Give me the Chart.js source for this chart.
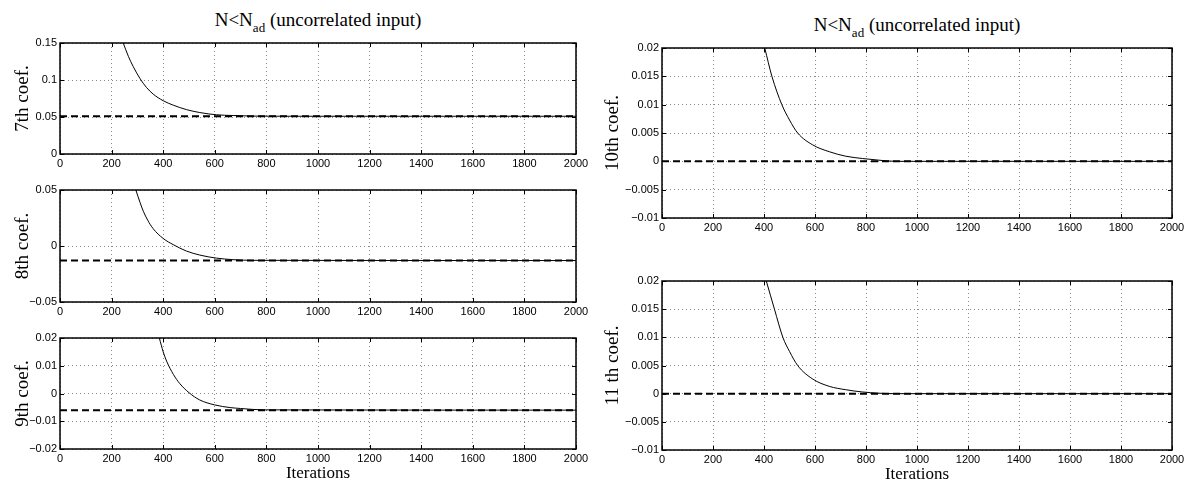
<!DOCTYPE html>
<html>
<head>
<meta charset="utf-8">
<script src="https://cdn.jsdelivr.net/npm/chart.js@4"></script>
<style>
  body { margin: 0; background: #fff; width: 1189px; height: 486px; position: relative; overflow: hidden; }
  canvas { position: absolute; }
  .ttl { position: absolute; width: 400px; text-align: center; font: 19px "Liberation Serif", serif; line-height: 19px; white-space: nowrap; color: #000; }
  .ttl sub { font-size: 13px; vertical-align: baseline; position: relative; top: 6px; }
</style>
</head>
<body>
<div class="ttl" style="left:118px;top:10px">N&lt;N<sub>ad</sub> (uncorrelated input)</div>
<div class="ttl" style="left:717px;top:15px">N&lt;N<sub>ad</sub> (uncorrelated input)</div>
<script>
// iterations axis
const xMin = 0, xMax = 2000, xStep = 200;

// 7th coefficient
const iter7 = [245, 265, 284, 310, 335, 361, 400, 439, 490, 542, 606, 671, 750, 900, 2000];
const coef7 = [0.15, 0.132, 0.118, 0.102, 0.090, 0.081, 0.072, 0.066, 0.060, 0.056, 0.053, 0.052, 0.0512, 0.051, 0.051];
const ref7 = 0.051;

// 8th coefficient
const iter8 = [294, 310, 323, 340, 361, 400, 439, 490, 542, 606, 671, 750, 2000];
const coef8 = [0.05, 0.039, 0.031, 0.023, 0.0155, 0.0067, 0.0012, -0.0045, -0.0081, -0.0108, -0.0122, -0.0128, -0.013];
const ref8 = -0.013;

// 9th coefficient
const iter9 = [385, 400, 413, 440, 464, 500, 541, 599, 662, 700, 790, 2000];
const coef9 = [0.02, 0.015, 0.0117, 0.0068, 0.0036, 0.0003, -0.0023, -0.0041, -0.0051, -0.0054, -0.0059, -0.006];
const ref9 = -0.006;

// 10th coefficient
const iter10 = [403, 431, 470, 500, 532, 591, 656, 721, 786, 851, 916, 2000];
const coef10 = [0.02, 0.015, 0.010, 0.0073, 0.005, 0.0029, 0.0017, 0.0009, 0.0005, 0.0002, 0, 0];
const ref10 = 0;

// 11th coefficient
const iter11 = [409, 441, 474, 500, 532, 591, 656, 721, 786, 916, 2000];
const coef11 = [0.02, 0.015, 0.010, 0.0075, 0.005, 0.0026, 0.0013, 0.0007, 0.0003, 0, 0];
const ref11 = 0;

// y ranges [min, max, step]
const range7 = [0, 0.15, 0.05];
const range8 = [-0.05, 0.05, 0.05];
const range9 = [-0.02, 0.02, 0.01];
const range10 = [-0.01, 0.02, 0.005];
const range11 = [-0.01, 0.02, 0.005];

const labels = ["7th coef.", "8th coef.", "9th coef.", "10th coef.", "11 th coef."];

Chart.defaults.font.family = "'Liberation Sans', Arial, sans-serif";
Chart.defaults.font.size = 11;
Chart.defaults.color = "#000";

const fmt = (v) => String(+(+v).toFixed(4)).replace("-", "\u2212");

// box around the axes + inward tick marks, matlab style
const boxPlugin = {
  id: "box",
  afterDraw(chart) {
    const { ctx, chartArea: a, scales } = chart;
    const x = scales.x, y = scales.y;
    ctx.save();
    ctx.strokeStyle = "#000";
    ctx.lineWidth = 1;
    ctx.beginPath();
    x.ticks.forEach((t) => {
      const px = Math.round(x.getPixelForValue(t.value)) + 0.5;
      ctx.moveTo(px, a.top); ctx.lineTo(px, a.top + 4);
      ctx.moveTo(px, a.bottom); ctx.lineTo(px, a.bottom - 4);
    });
    y.ticks.forEach((t) => {
      const py = Math.round(y.getPixelForValue(t.value)) + 0.5;
      ctx.moveTo(a.left, py); ctx.lineTo(a.left + 4, py);
      ctx.moveTo(a.right, py); ctx.lineTo(a.right - 4, py);
    });
    ctx.stroke();
    ctx.lineWidth = 1.5;
    ctx.strokeRect(a.left, a.top, a.right - a.left, a.bottom - a.top);
    ctx.restore();
  },
};

function makePanel(p) {
  const cv = document.createElement("canvas");
  cv.width = p.w; cv.height = p.h;
  cv.style.left = p.left + "px"; cv.style.top = p.top + "px";
  document.body.appendChild(cv);

  const curve = p.iters.map((it, i) => ({ x: it, y: p.coefs[i] }));
  const refLine = [{ x: xMin, y: p.ref }, { x: xMax, y: p.ref }];

  new Chart(cv.getContext("2d"), {
    type: "line",
    data: {
      datasets: [
        { data: refLine, borderColor: "#000", borderWidth: 2, borderDash: [7, 4], pointRadius: 0 },
        { data: curve, borderColor: "#000", borderWidth: 1, pointRadius: 0, cubicInterpolationMode: "monotone" },
      ],
    },
    options: {
      responsive: false,
      animation: false,
      events: [],
      layout: { padding: { left: 0, top: p.pt, right: p.pr, bottom: 0 } },
      plugins: { legend: { display: false }, tooltip: { enabled: false } },
      scales: {
        x: {
          type: "linear",
          min: xMin, max: xMax,
          ticks: { stepSize: xStep, padding: 3, maxRotation: 0, autoSkip: false, callback: fmt },
          grid: { color: "#888", drawTicks: false },
          border: { display: false, dash: [1, 3] },
          title: {
            display: !!p.xTitle, text: "Iterations",
            font: { family: "'Liberation Serif', serif", size: 17 },
            padding: { top: 0, bottom: 0 },
          },
          afterFit: (s) => { s.height = p.xh; s.paddingLeft = 0; s.paddingRight = 0; },
        },
        y: {
          min: p.range[0], max: p.range[1],
          ticks: { stepSize: p.range[2], padding: 3, autoSkip: false, callback: fmt },
          grid: { color: "#888", drawTicks: false },
          border: { display: false, dash: [1, 3] },
          title: {
            display: true, text: p.label,
            font: { family: "'Liberation Serif', serif", size: 19 },
            padding: { top: 12, bottom: 0 },
          },
          afterFit: (s) => { s.width = p.yw; s.paddingTop = 0; s.paddingBottom = 0; },
        },
      },
    },
    plugins: [boxPlugin],
  });
}

// panel placement
makePanel({ left: 0, top: 30, w: 600, h: 144, yw: 60, pr: 24, pt: 13, xh: 20,
  iters: iter7, coefs: coef7, ref: ref7, range: range7, label: labels[0] });
makePanel({ left: 0, top: 177, w: 600, h: 145, yw: 60, pr: 24, pt: 13, xh: 20,
  iters: iter8, coefs: coef8, ref: ref8, range: range8, label: labels[1] });
makePanel({ left: 0, top: 325, w: 600, h: 159, yw: 60, pr: 24, pt: 13, xh: 35, xTitle: true,
  iters: iter9, coefs: coef9, ref: ref9, range: range9, label: labels[2] });
makePanel({ left: 590, top: 35, w: 599, h: 203, yw: 72, pr: 17, pt: 13, xh: 20,
  iters: iter10, coefs: coef10, ref: ref10, range: range10, label: labels[3] });
makePanel({ left: 590, top: 268, w: 599, h: 217, yw: 72, pr: 17, pt: 13, xh: 35, xTitle: true,
  iters: iter11, coefs: coef11, ref: ref11, range: range11, label: labels[4] });
</script>
</body>
</html>
